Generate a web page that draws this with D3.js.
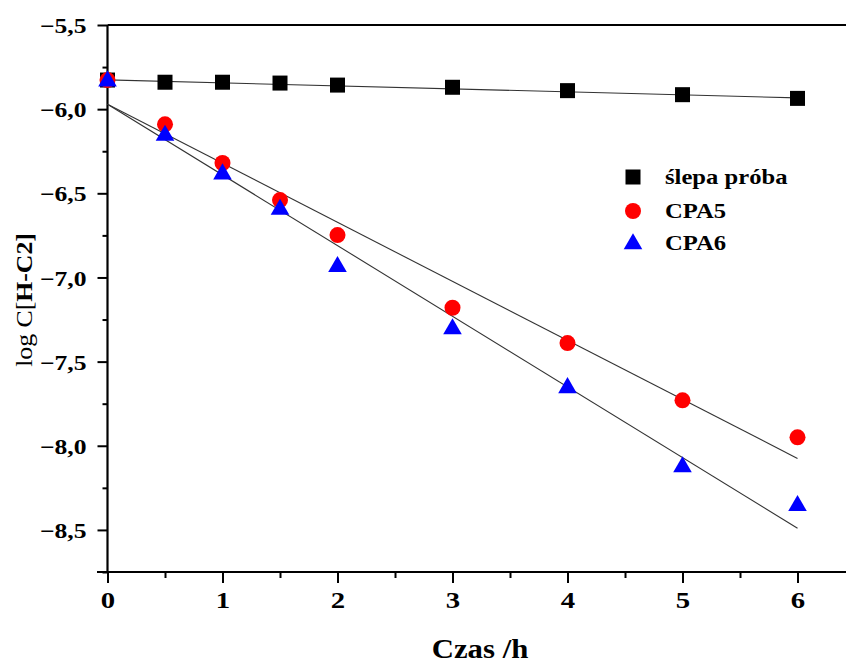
<!DOCTYPE html>
<html><head><meta charset="utf-8">
<script src="https://cdn.jsdelivr.net/npm/d3@7"></script>
<style>body{margin:0;background:#fff}svg{display:block}text{font-family:"Liberation Serif","Times New Roman",serif}</style>
</head><body><svg id="c" width="846" height="664"></svg>
<script>
const times = [0, 0.5, 1, 1.5, 2, 3, 4, 5, 6];
const blank = [-5.827, -5.84, -5.84, -5.845, -5.857, -5.87, -5.89, -5.914, -5.936];
const cpa5  = [-5.827, -6.09, -6.32, -6.54, -6.748, -7.18, -7.39, -7.73, -7.95];
const cpa6  = [-5.827, -6.15, -6.38, -6.59, -6.93, -7.30, -7.65, -8.12, -8.35];
const fitX = [0, 6];
const fitBlank = [-5.826, -5.933];
const fitCpa5 = [-5.971, -8.075];
const fitCpa6 = [-5.971, -8.49];
const yTicks = [-5.5, -6.0, -6.5, -7.0, -7.5, -8.0, -8.5];
const yMinor = [-5.75, -6.25, -6.75, -7.25, -7.75, -8.25, -8.75];
const xTicks = [0, 1, 2, 3, 4, 5, 6];
const xMinor = [0.5, 1.5, 2.5, 3.5, 4.5, 5.5];
const legendLabels = ["ślepa próba", "CPA5", "CPA6"];

const svg = d3.select("#c");
const x = d3.scaleLinear().domain([0, 6.426]).range([107.5, 846.5]);
const y = d3.scaleLinear().domain([-8.75, -5.5]).range([572, 25]);
const fmt = d => d3.format(".1f")(d).replace(".", ",");

// axes
const gx = svg.append("g").attr("transform", "translate(0,572)");
gx.call(d3.axisBottom(x).tickValues(xTicks).tickSize(11).tickFormat(d3.format("d")).tickPadding(9));
gx.append("g").call(d3.axisBottom(x).tickValues(xMinor).tickSize(6).tickFormat(""));
const gy = svg.append("g").attr("transform", "translate(107.5,0)");
gy.call(d3.axisLeft(y).tickValues(yTicks).tickSize(10).tickFormat(fmt).tickPadding(11));
gy.append("g").call(d3.axisLeft(y).tickValues(yMinor).tickSize(5).tickFormat(""));
svg.selectAll(".domain").remove();
svg.selectAll(".tick line").attr("stroke", "#000").attr("stroke-width", 2);
gx.selectAll(".tick text").attr("font-size", 23).attr("font-weight", "bold").attr("fill", "#000")
  .attr("font-family", "Liberation Serif").attr("transform", "scale(1.25,1)");
gy.selectAll(".tick text").attr("font-size", 21).attr("font-weight", "bold").attr("fill", "#000")
  .attr("font-family", "Liberation Serif").attr("dy", "0.36em")
  .attr("x", -21 / 1.22).attr("transform", "scale(1.22,1)");

// frame lines (left, bottom, top)
svg.append("line").attr("x1", x(0)).attr("x2", x(0)).attr("y1", y(-5.5)).attr("y2", y(-8.75)).attr("stroke", "#000").attr("stroke-width", 2.2);
svg.append("line").attr("x1", 97).attr("x2", x.range()[1]).attr("y1", y(-8.75)).attr("y2", y(-8.75)).attr("stroke", "#000").attr("stroke-width", 2.2);
svg.append("line").attr("x1", x(0)).attr("x2", x.range()[1]).attr("y1", y(-5.5)).attr("y2", y(-5.5)).attr("stroke", "#000").attr("stroke-width", 2.2);

// fit lines
const fits = [fitBlank, fitCpa5, fitCpa6];
fits.forEach(f => {
  svg.append("line").attr("x1", x(fitX[0])).attr("y1", y(f[0])).attr("x2", x(fitX[1])).attr("y2", y(f[1]))
    .attr("stroke", "#333").attr("stroke-width", 1.1);
});

// markers
const sq = 15, rad = 8;
const tri = d3.symbol().type(d3.symbolTriangle).size(150);
svg.append("g").selectAll("rect").data(times).join("rect")
  .attr("x", (d) => x(d) - sq/2).attr("y", (d, i) => y(blank[i]) - sq/2).attr("width", sq).attr("height", sq).attr("fill", "#000");
svg.append("g").selectAll("circle").data(times).join("circle")
  .attr("cx", d => x(d)).attr("cy", (d, i) => y(cpa5[i])).attr("r", rad).attr("fill", "#ff0000");
svg.append("g").selectAll("path").data(times).join("path")
  .attr("d", tri).attr("transform", (d, i) => `translate(${x(d)},${y(cpa6[i]) + 1})`).attr("fill", "#0000ff");

// legend
const lg = svg.append("g");
const ly = [177, 211, 243];
lg.append("rect").attr("x", 633 - sq/2).attr("y", ly[0] - sq/2).attr("width", sq).attr("height", sq).attr("fill", "#000");
lg.append("circle").attr("cx", 633).attr("cy", ly[1]).attr("r", rad).attr("fill", "#ff0000");
lg.append("path").attr("d", tri).attr("transform", `translate(633,${ly[2] + 1})`).attr("fill", "#0000ff");
legendLabels.forEach((t, i) => {
  lg.append("text").attr("transform", `translate(665,${ly[i] + 7}) scale(1.12,1)`)
    .attr("font-size", 22).attr("font-weight", "bold").text(t);
});

// axis titles
svg.append("text").attr("transform", "translate(480,658) scale(1.14,1)").attr("text-anchor", "middle")
  .attr("font-size", 27).attr("font-weight", "bold").text("Czas /h");
const yt = svg.append("text").attr("transform", "translate(32,300) rotate(-90) scale(1.12,1)").attr("text-anchor", "middle").attr("font-size", 23);
yt.append("tspan").text("log C[");
yt.append("tspan").attr("font-weight", "bold").text("H-C2]");
</script></body></html>
